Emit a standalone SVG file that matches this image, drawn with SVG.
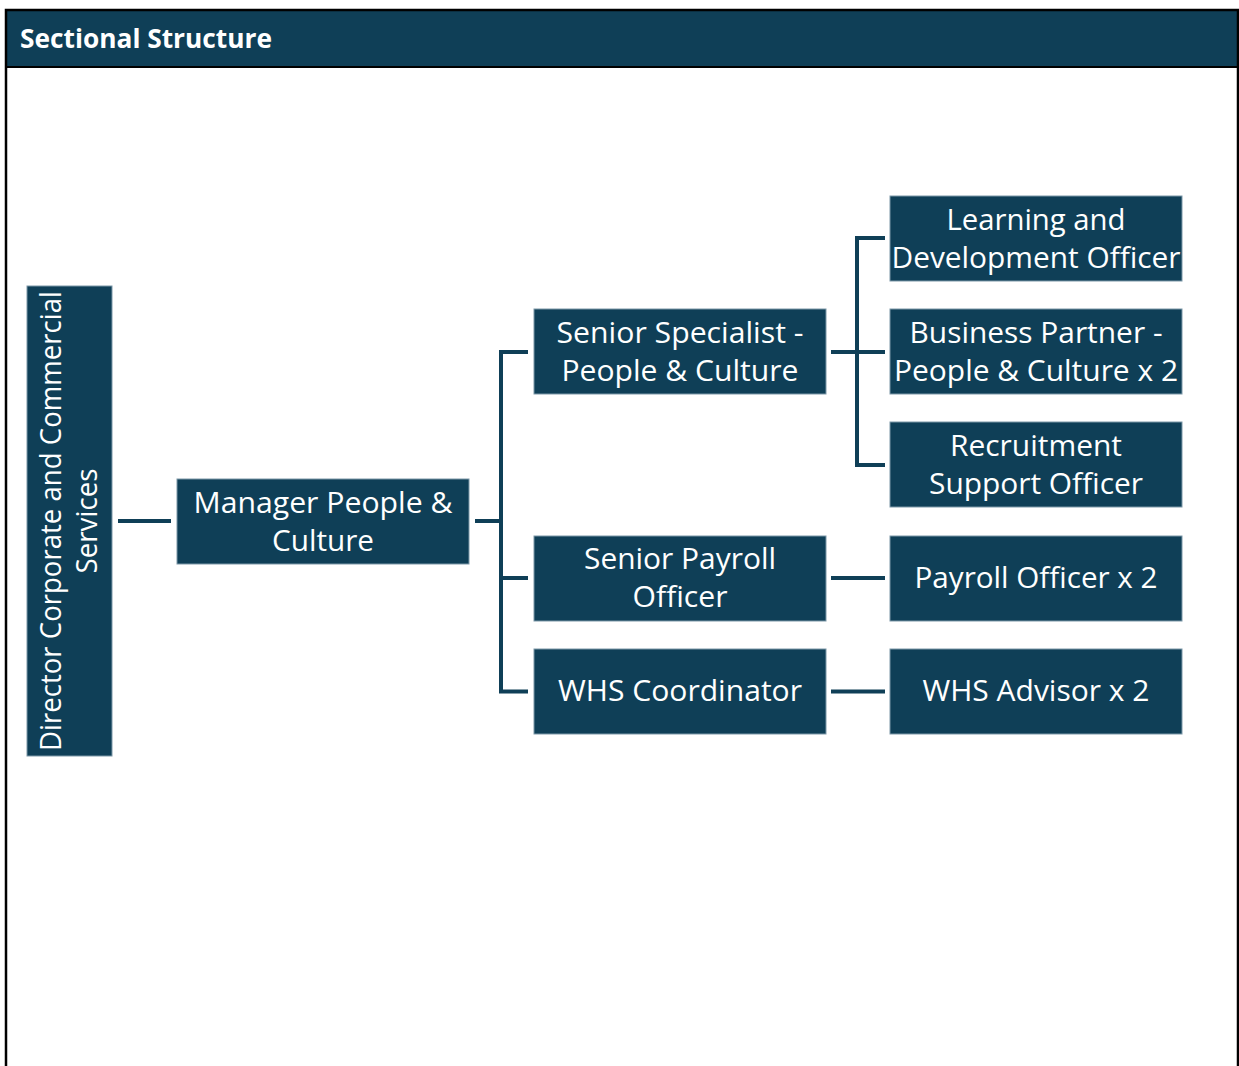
<svg xmlns="http://www.w3.org/2000/svg" width="1239" height="1066" viewBox="0 0 1239 1066">
<style>
.node{fill:#0F3F57;stroke:#7C98A8;stroke-width:1}
.lbl{font-family:"Open Sans","Noto Sans","Liberation Sans",sans-serif;font-size:30px;fill:#FFFFFF;text-anchor:middle}
.conn{fill:none;stroke:#0F3F57;stroke-width:4;stroke-linejoin:miter;stroke-linecap:butt}
</style>
<rect x="0" y="0" width="1239" height="1066" fill="#FFFFFF"/>
<g id="frame">
<rect x="6" y="10" width="1232" height="57" fill="#0F3F57"/>
<path d="M6,1070 V10 H1238 V1070" fill="none" stroke="#000000" stroke-width="2.5"/>
<line x1="6" y1="67" x2="1238" y2="67" stroke="#000000" stroke-width="2"/>
<text x="20" y="48" font-family="'Open Sans','Noto Sans','Liberation Sans',sans-serif" font-size="27" font-weight="bold" fill="#FFFFFF" textLength="252" lengthAdjust="spacingAndGlyphs">Sectional Structure</text>
</g>
<g id="connectors">
<path class="conn" d="M118,521 H171"/>
<path class="conn" d="M475,521 H501"/>
<path class="conn" d="M528,352 H501 V691.5 H528"/>
<path class="conn" d="M501,578 H528"/>
<path class="conn" d="M831,352 H885"/>
<path class="conn" d="M885,238 H857 V465 H885"/>
<path class="conn" d="M831,578 H885"/>
<path class="conn" d="M831,691.5 H885"/>
</g>
<g id="director">
<rect class="node" x="27" y="286" width="85" height="470"/>
<text class="lbl" transform="translate(61,521) rotate(-90)" textLength="460" lengthAdjust="spacingAndGlyphs">Director Corporate and Commercial</text>
<text class="lbl" transform="translate(97,521) rotate(-90)" textLength="105" lengthAdjust="spacingAndGlyphs">Services</text>
</g>
<g id="manager">
<rect class="node" x="177" y="479" width="292" height="85"/>
<text class="lbl" x="323" y="513" textLength="259" lengthAdjust="spacingAndGlyphs">Manager People &amp;</text>
<text class="lbl" x="323" y="551" textLength="102" lengthAdjust="spacingAndGlyphs">Culture</text>
</g>
<g id="senior-specialist">
<rect class="node" x="534" y="309" width="292" height="85"/>
<text class="lbl" x="680" y="343" textLength="247" lengthAdjust="spacingAndGlyphs">Senior Specialist -</text>
<text class="lbl" x="680" y="380.5" textLength="237" lengthAdjust="spacingAndGlyphs">People &amp; Culture</text>
</g>
<g id="senior-payroll">
<rect class="node" x="534" y="536" width="292" height="85"/>
<text class="lbl" x="680" y="569" textLength="192" lengthAdjust="spacingAndGlyphs">Senior Payroll</text>
<text class="lbl" x="680" y="607" textLength="95" lengthAdjust="spacingAndGlyphs">Officer</text>
</g>
<g id="whs-coordinator">
<rect class="node" x="534" y="649" width="292" height="85"/>
<text class="lbl" x="680" y="700.5" textLength="244" lengthAdjust="spacingAndGlyphs">WHS Coordinator</text>
</g>
<g id="learning-development">
<rect class="node" x="890" y="196" width="292" height="85"/>
<text class="lbl" x="1036" y="230" textLength="179" lengthAdjust="spacingAndGlyphs">Learning and</text>
<text class="lbl" x="1036" y="268" textLength="289" lengthAdjust="spacingAndGlyphs">Development Officer</text>
</g>
<g id="business-partner">
<rect class="node" x="890" y="309" width="292" height="85"/>
<text class="lbl" x="1036" y="343" textLength="253" lengthAdjust="spacingAndGlyphs">Business Partner -</text>
<text class="lbl" x="1036" y="381" textLength="284" lengthAdjust="spacingAndGlyphs">People &amp; Culture x 2</text>
</g>
<g id="recruitment">
<rect class="node" x="890" y="422" width="292" height="85"/>
<text class="lbl" x="1036" y="456" textLength="172" lengthAdjust="spacingAndGlyphs">Recruitment</text>
<text class="lbl" x="1036" y="494" textLength="214" lengthAdjust="spacingAndGlyphs">Support Officer</text>
</g>
<g id="payroll-officer">
<rect class="node" x="890" y="536" width="292" height="85"/>
<text class="lbl" x="1036" y="587.5" textLength="243" lengthAdjust="spacingAndGlyphs">Payroll Officer x 2</text>
</g>
<g id="whs-advisor">
<rect class="node" x="890" y="649" width="292" height="85"/>
<text class="lbl" x="1036" y="700.5" textLength="227" lengthAdjust="spacingAndGlyphs">WHS Advisor x 2</text>
</g>
</svg>
